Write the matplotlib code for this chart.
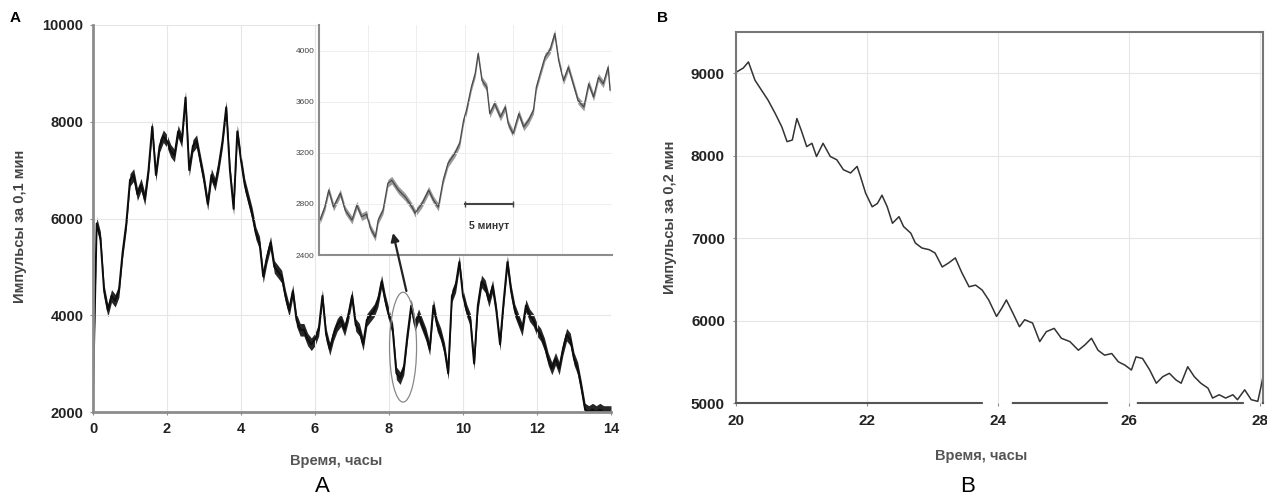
import matplotlib
matplotlib.use("Agg")
import matplotlib.pyplot as plt
from matplotlib.patches import Ellipse
import numpy as np

plt.rcParams['font.family'] = ['Liberation Sans', 'DejaVu Sans']

# ---------------- Panel A: main trace (counts per 0.1 min), every 0.1 h ----------------
hours_a = np.round(np.arange(0, 14.01, 0.1), 1)
counts_a = [
    2400, 5900, 5600, 4500, 4100, 4400, 4300, 4500, 5300, 5900,
    6800, 6900, 6500, 6700, 6400, 7000, 7900, 6900, 7500, 7700,
    7600, 7400, 7300, 7800, 7600, 8500, 7000, 7500, 7600, 7200,
    6800, 6300, 6900, 6700, 7100, 7600, 8300, 7000, 6200, 7800,
    7200, 6700, 6400, 6100, 5700, 5500, 4800, 5200, 5500, 5000,
    4900, 4800, 4400, 4100, 4500, 3900, 3700, 3700, 3500, 3400,
    3500, 3700, 4400, 3600, 3300, 3600, 3800, 3900, 3700, 4000,
    4400, 3800, 3700, 3400, 3900, 4000, 4100, 4300, 4700, 4300,
    4000, 3700, 2800, 2700, 2900, 3600, 4200, 3800, 4000, 3800,
    3600, 3300, 4200, 3800, 3600, 3300, 2800, 4400, 4600, 5100,
    4400, 4100, 3900, 3000, 4200, 4700, 4600, 4300, 4600, 4100,
    3400, 4300, 5100, 4500, 4100, 3900, 3700, 4200, 4000, 3900,
    3700, 3600, 3400, 3100, 2900, 3100, 2900, 3300, 3600, 3500,
    3100, 2900, 2500, 2050, 2000, 2050, 2000, 2050, 2000, 2000,
    2000,
]
band_half_a = 130  # half-thickness of the noisy band

# ---------------- Inset: zoom of the circled region, minutes ----------------
inset_min = [0.1, 0.6, 1.0, 1.5, 2.2, 2.7, 3.4, 3.9, 4.4, 4.9, 5.3, 5.8, 6.1, 6.6,
             7.1, 7.5, 8.2, 8.9, 9.6, 9.9, 10.6, 11.3, 11.8, 12.3, 12.8, 13.3, 14.0,
             14.5, 14.9, 15.2, 15.7, 16.1, 16.4, 16.8, 17.3, 17.6, 18.1, 18.7, 19.2,
             19.5, 20.0, 20.6, 21.1, 21.6, 22.1, 22.4, 22.8, 23.3, 23.8, 24.3, 24.7,
             25.2, 25.7, 26.2, 26.7, 27.3, 27.8, 28.3, 28.8, 29.3, 29.8, 30.0]
inset_cnt = [2673, 2775, 2907, 2775, 2884, 2751, 2673, 2790, 2700, 2720, 2610, 2540,
             2673, 2750, 2962, 2985, 2907, 2853, 2775, 2728, 2800, 2907, 2830, 2775,
             2985, 3118, 3196, 3274, 3454, 3532, 3713, 3820, 3977, 3765, 3713, 3506,
             3585, 3480, 3558, 3428, 3350, 3506, 3402, 3454, 3532, 3713, 3820, 3950,
             4003, 4133, 3924, 3765, 3870, 3740, 3610, 3558, 3740, 3636, 3790, 3740,
             3870, 3690]
inset_band_half = 30
inset_yticks = [2400, 2800, 3200, 3600, 4000]
scale_bar_min = [15, 20]
scale_bar_level = 2800

# ---------------- Panel B: counts per 0.2 min ----------------
hours_b = [20.01, 20.11, 20.19, 20.29, 20.39, 20.49, 20.60, 20.70, 20.78, 20.86, 20.93,
           21.00, 21.08, 21.16, 21.23, 21.33, 21.44, 21.54, 21.64, 21.75, 21.85, 21.90,
           21.98, 22.08, 22.16, 22.23, 22.31, 22.39, 22.49, 22.56, 22.67, 22.74, 22.84,
           22.95, 23.04, 23.15, 23.25, 23.35, 23.45, 23.56, 23.66, 23.76, 23.86, 23.98,
           24.06, 24.13, 24.23, 24.33, 24.41, 24.53, 24.64, 24.74, 24.86, 24.97, 25.10,
           25.23, 25.33, 25.43, 25.53, 25.63, 25.74, 25.84, 25.94, 26.04, 26.11, 26.21,
           26.32, 26.42, 26.52, 26.62, 26.72, 26.80, 26.90, 27.00, 27.10, 27.21, 27.28,
           27.38, 27.48, 27.59, 27.66, 27.77, 27.87, 27.97, 28.02, 28.05]
counts_b = [9016, 9062, 9137, 8915, 8794, 8673, 8510, 8349, 8170, 8190, 8450,
            8300, 8110, 8150, 7990, 8150, 7990, 7950, 7830, 7790, 7870, 7750,
            7545, 7380, 7420, 7520, 7380, 7180, 7260, 7140, 7060, 6940, 6880,
            6860, 6820, 6650, 6700, 6760, 6580, 6410, 6430, 6370, 6250, 6050,
            6150, 6250, 6090, 5925, 6010, 5970, 5745, 5865, 5905, 5785, 5745,
            5640, 5705, 5785, 5640, 5580, 5600, 5500, 5460, 5400, 5560, 5540,
            5400, 5240, 5320, 5360, 5280, 5240, 5440, 5320, 5240, 5180, 5060,
            5100, 5060, 5100, 5040, 5160, 5040, 5020, 5200, 5320]

W, H = 1267, 500
fig = plt.figure(figsize=(W / 100, H / 100), dpi=100)

def fx(px):
    return px / W

def fy(py):
    return 1 - py / H

spine_col = '#8c8c8c'
grid_col = '#e6e6e6'
tick_col = '#222222'

# ---------- Panel A ----------
axA = fig.add_axes([fx(93), fy(412), fx(611) - fx(93), fy(25) - fy(412)])
c = np.array(counts_a, dtype=float)
axA.fill_between(hours_a, c - band_half_a, c + band_half_a, color='#262626', lw=0)
axA.plot(hours_a, c, color='#0d0d0d', lw=1.4)
axA.set_xlim(0, 14)
axA.set_ylim(2000, 10000)
axA.set_xticks([0, 2, 4, 6, 8, 10, 12, 14])
axA.set_yticks([2000, 4000, 6000, 8000, 10000])
axA.grid(True, color=grid_col, lw=0.8)
for s in ['top', 'right']:
    axA.spines[s].set_visible(False)
for s in ['left', 'bottom']:
    axA.spines[s].set_color(spine_col)
    axA.spines[s].set_linewidth(2)
axA.tick_params(length=2, color=spine_col, labelsize=10.5, labelcolor=tick_col, pad=5)
for lab in axA.get_xticklabels() + axA.get_yticklabels():
    lab.set_fontweight('bold')
axA.set_xlabel('Время, часы', fontsize=10.5, fontweight='bold', color='#555555')
axA.xaxis.set_label_coords(0.47, -0.108)
axA.set_ylabel('Импульсы за 0,1 мин', fontsize=10.5, fontweight='bold', color='#444444')
axA.yaxis.set_label_coords(-0.127, 0.48)

# ellipse around the zoomed region
ell = Ellipse((8.38, 3340), 0.73, 2270, fill=False, edgecolor='#888888', lw=0.9, zorder=5)
axA.add_patch(ell)

# ---------- Inset ----------
axI = fig.add_axes([fx(319), fy(255), fx(612) - fx(319), fy(25) - fy(255)])
ic = np.array(inset_cnt, dtype=float)
axI.fill_between(inset_min, ic - inset_band_half, ic + inset_band_half, color='#9a9a9a', lw=0)
axI.plot(inset_min, inset_cnt, color='#4a4a4a', lw=0.9)
axI.set_xlim(0, 30.2)
axI.set_ylim(2400, 4200)
axI.set_yticks(inset_yticks)
axI.set_xticks([5, 10, 15, 20, 25])
axI.grid(True, color='#eeeeee', lw=0.7)
axI.tick_params(axis='y', length=0, labelsize=6, labelcolor='#444444', pad=3)
axI.tick_params(axis='x', length=0, labelbottom=False)
for s in ['top', 'right']:
    axI.spines[s].set_visible(False)
for s in ['left', 'bottom']:
    axI.spines[s].set_color(spine_col)
    axI.spines[s].set_linewidth(1.5)
axI.plot(scale_bar_min, [scale_bar_level, scale_bar_level], color='#444444', lw=1.5,
         marker='|', markersize=5)
axI.text(sum(scale_bar_min) / 2, scale_bar_level - 170, '5 минут', fontsize=7.5,
         fontweight='bold', ha='center', va='center', color='#333333')

# arrow from ellipse to inset (drawn on top of the inset)
arr = axI.annotate('', xy=(fx(393), fy(233)), xycoords='figure fraction',
                   xytext=(8.47, 4500), textcoords=axA.transData,
                   arrowprops=dict(arrowstyle='-|>', color='#222222', lw=1.6,
                                   mutation_scale=12, shrinkA=0, shrinkB=0),
                   annotation_clip=False)
arr.set_zorder(10)

# ---------- Panel B ----------
axB = fig.add_axes([fx(736), fy(403), fx(1263) - fx(736), fy(32) - fy(403)])
axB.plot(hours_b, counts_b, color='#333333', lw=1.1)
axB.set_xlim(20, 28.05)
axB.set_ylim(5000, 9500)
axB.set_xticks([20, 22, 24, 26, 28])
axB.set_yticks([5000, 6000, 7000, 8000, 9000])
axB.grid(True, color=grid_col, lw=0.8)
for s in axB.spines.values():
    s.set_color('#777777')
    s.set_linewidth(1.5)
# the scanned bottom axis line is broken around the tick labels
axB.spines['bottom'].set_color('#555555')
axB.spines['bottom'].set_linestyle((0, (118, 14.9, 45.1, 14.9, 50.4, 9.6)))
axB.tick_params(length=2, color=spine_col, labelsize=11, labelcolor=tick_col, pad=6)
for lab in axB.get_xticklabels() + axB.get_yticklabels():
    lab.set_fontweight('bold')
axB.set_xlabel('Время, часы', fontsize=10.5, fontweight='bold', color='#555555')
axB.xaxis.set_label_coords(0.465, -0.125)
axB.set_ylabel('Импульсы за 0,2 мин', fontsize=10.5, fontweight='bold', color='#444444')
axB.yaxis.set_label_coords(-0.112, 0.5)

# ---------- Panel letters ----------
fig.text(fx(15), fy(18), 'A', fontsize=11, fontweight='bold', ha='center', va='center')
fig.text(fx(663), fy(18), 'B', fontsize=11, fontweight='bold', ha='center', va='center')
fig.text(fx(322), fy(487), 'A', fontsize=16, ha='center', va='center')
fig.text(fx(968), fy(487), 'B', fontsize=16, ha='center', va='center')

fig.savefig('out.png', dpi=100, facecolor='white')
